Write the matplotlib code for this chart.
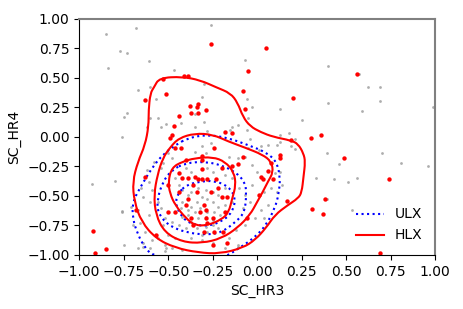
import numpy as np
import matplotlib
matplotlib.use("Agg")
import matplotlib.pyplot as plt
from matplotlib.path import Path
from matplotlib.patches import PathPatch
from matplotlib.lines import Line2D

# gray background sources (ULX sample)
gray_x = [-0.85, -0.68, -0.26, -0.77, -0.73, -0.61, -0.84, -0.47, -0.67, -0.60, -0.30, -0.07, -0.06, -0.03,
          -0.05, -0.57, -0.31, -0.75, -0.73, -0.60, -0.56, -0.62, -0.54, -0.51, -0.43, -0.35, -0.28, -0.14,
          -0.11, -0.76, 0.40, 0.62, 0.69, 0.13, 0.40, 0.69, 0.59, 0.99, 0.25, 0.18, 0.57, 0.13, -0.04, 0.02,
          0.21, 0.19, 0.21, 0.39, 0.70, 0.46, 0.51, 0.56, 0.81, 0.96, 0.33, 0.43, 0.53, 0.39, -0.93, -0.80,
          -0.76, -0.76, -0.75, -0.67, -0.64, -0.51, -0.11, -0.35, -0.30, -0.15, -0.06,
          -0.26, -0.31, -0.35, -0.29, -0.50, -0.48, -0.53, -0.54, -0.58, -0.62, -0.61, -0.65, -0.64, -0.60,
          -0.56, -0.54, -0.61, -0.66, -0.63, -0.59, -0.52, -0.48, -0.42, -0.37, -0.31, -0.25, -0.16, -0.12,
          -0.07, -0.08, -0.04, -0.07, -0.10, -0.03, 0.00, -0.03, -0.07, -0.05, 0.01, 0.06, 0.11, 0.13, -0.11,
          -0.16, -0.14, -0.18, -0.25, -0.28, -0.37, -0.40, -0.46, -0.44, -0.42, -0.39, -0.37, -0.33, -0.29,
          -0.25, -0.22, -0.18, -0.14, -0.18, -0.22, -0.25, -0.28, -0.31, -0.34, -0.37, -0.39, -0.42, -0.43,
          -0.42, -0.39, -0.35, -0.32, -0.28, -0.24, -0.21, -0.25, -0.29, -0.33, -0.37, -0.34, -0.29, -0.25,
          -0.22, -0.28, -0.31, -0.40, -0.44, -0.48, -0.52, -0.53, -0.50, -0.46, -0.56, 0.04, 0.06, 0.08,
          0.02, -0.01, 0.04, 0.11, 0.14, 0.13, 0.10, -0.59, -0.67, -0.70, -0.71, -0.64, -0.60, -0.52, -0.18,
          -0.11]
gray_y = [0.87, 0.92, 0.95, 0.73, 0.71, 0.64, 0.58, 0.57, 0.40, 0.42, 0.45, 0.65, 0.32, 0.25,
          0.16, 0.32, 0.34, 0.17, 0.20, 0.16, 0.16, 0.08, 0.08, 0.11, 0.12, 0.08, 0.05, 0.08,
          0.10, 0.00, 0.60, 0.42, 0.42, 0.24, 0.29, 0.30, 0.22, 0.25, 0.14, 0.03, 0.53, -0.04, -0.02, -0.08,
          -0.02, -0.08, -0.10, -0.14, -0.14, -0.23, -0.38, -0.35, -0.22, -0.25, -0.35, -0.36, -0.62, -0.53, -0.40, -0.37,
          -0.63, -0.64, -0.92, -0.94, -0.93, -0.94, -0.93, 0.19, 0.13, 0.06, 0.06,
          -0.05, -0.08, -0.13, -0.14, -0.14, -0.18, -0.22, -0.26, -0.21, -0.28, -0.38, -0.43, -0.51, -0.55,
          -0.55, -0.60, -0.66, -0.73, -0.81, -0.87, -0.92, -0.94, -0.96, -0.86, -0.87, -0.90, -0.86, -0.79,
          -0.75, -0.60, -0.55, -0.49, -0.43, -0.41, -0.30, -0.24, -0.17, -0.09, -0.11, -0.07, -0.07, 0.02, -0.18,
          -0.17, -0.35, -0.32, -0.30, -0.26, -0.30, -0.26, -0.35, -0.41, -0.45, -0.49, -0.47, -0.43, -0.45,
          -0.47, -0.49, -0.43, -0.55, -0.58, -0.59, -0.55, -0.53, -0.51, -0.55, -0.59, -0.62, -0.55, -0.60,
          -0.68, -0.66, -0.64, -0.60, -0.64, -0.64, -0.66, -0.70, -0.68, -0.69, -0.72, -0.77, -0.76, -0.75,
          -0.77, -0.81, -0.83, -0.77, -0.75, -0.72, -0.69, -0.75, -0.83, -0.86, -0.86, -0.47, -0.58, -0.43,
          -0.62, -0.69, -0.69, -0.47, -0.41, -0.30, -0.31, -0.45, -0.62, -0.75, -0.59, -0.90, -0.94, -0.97, -0.94,
          -0.92]

# red sources (HLX sample)
red_x = [-0.26, -0.05, -0.53, -0.41, -0.39, -0.63, -0.51, -0.08, -0.07, -0.38, -0.34, -0.33, -0.37, -0.33,
         -0.29, -0.44, -0.47, -0.49, -0.48, -0.18, -0.14, 0.05, 0.56, 0.20, 0.30, 0.36, 0.19, 0.13, 0.13,
         0.49, 0.08, 0.06, 0.02, 0.03, 0.09, 0.17, 0.74, 0.38, 0.31, 0.37, 0.69, -0.92, -0.91, -0.85, -0.68,
         -0.25, -0.17, -0.46, -0.43, -0.24, -0.40, -0.31, -0.31, -0.20, -0.14, -0.11, -0.08, -0.44, -0.42,
         -0.39, -0.35, -0.31, -0.33, -0.31, -0.28, -0.23, -0.63, -0.50, -0.36, -0.44, -0.34, -0.26, -0.22,
         -0.20, -0.17, -0.39, -0.30, -0.40, -0.32, -0.29, -0.46, -0.50, -0.37, -0.29, -0.25, -0.18, -0.28,
         -0.36, -0.30, -0.24, -0.19, -0.06, 0.01, -0.57]
red_y = [0.79, 0.56, 0.49, 0.52, 0.52, 0.31, 0.36, 0.39, 0.24, 0.26, 0.25, 0.28, 0.20, 0.20,
         0.23, 0.18, 0.09, -0.01, 0.02, 0.04, 0.03, 0.75, 0.53, 0.33, -0.01, 0.02, -0.03, -0.15, -0.18,
         -0.18, -0.22, -0.29, -0.34, -0.36, -0.36, -0.54, -0.36, -0.53, -0.61, -0.65, -0.98, -0.80, -0.98, -0.95, -0.62,
         -0.92, -0.90, -0.09, -0.09, -0.09, -0.20, -0.16, -0.20, -0.26, -0.25, -0.23, -0.17, -0.31, -0.35,
         -0.35, -0.34, -0.27, -0.36, -0.36, -0.36, -0.36, -0.34, -0.41, -0.41, -0.47, -0.47, -0.47, -0.43,
         -0.51, -0.51, -0.53, -0.58, -0.58, -0.64, -0.62, -0.64, -0.64, -0.69, -0.69, -0.69, -0.64, -0.73,
         -0.75, -0.81, -0.81, -0.81, -0.69, -0.49, -0.83]

# density contours (x list, y list per level)
ulx_c1_x = [-0.39, -0.28, -0.16, -0.05, 0.05, 0.11, 0.13, 0.12, 0.10, 0.05, -0.02, -0.10, -0.16, -0.25,
            -0.45, -0.59, -0.63, -0.67, -0.70, -0.70, -0.65, -0.59, -0.53, -0.46]
ulx_c1_y = [-0.01, 0.02, -0.01, -0.07, -0.13, -0.21, -0.35, -0.49, -0.60, -0.75, -0.86, -0.94, -1.00, -1.06,
            -1.06, -1.00, -0.94, -0.83, -0.69, -0.55, -0.41, -0.26, -0.15, -0.07]
ulx_c2_x = [-0.40, -0.29, -0.20, -0.12, -0.07, -0.06, -0.07, -0.12, -0.20, -0.29, -0.40, -0.50, -0.56,
            -0.56, -0.53, -0.48]
ulx_c2_y = [-0.22, -0.21, -0.24, -0.30, -0.38, -0.47, -0.64, -0.72, -0.81, -0.83, -0.81, -0.75, -0.64,
            -0.52, -0.38, -0.28]
ulx_c3_x = [-0.40, -0.33, -0.24, -0.16, -0.12, -0.14, -0.20, -0.29, -0.39, -0.44, -0.46, -0.44]
ulx_c3_y = [-0.41, -0.38, -0.37, -0.42, -0.52, -0.64, -0.72, -0.76, -0.73, -0.64, -0.55, -0.47]

hlx_c1_x = [-0.60, -0.58, -0.55, -0.42, -0.32, -0.23, -0.15, -0.11, -0.08, -0.04, 0.02, 0.09, 0.19, 0.23,
            0.26, 0.27, 0.26, 0.25, 0.23, 0.17, 0.10, 0.05, -0.01, -0.08, -0.21, -0.33, -0.46, -0.57, -0.65,
            -0.69, -0.70, -0.67, -0.63, -0.61, -0.61]
hlx_c1_y = [0.37, 0.42, 0.50, 0.51, 0.48, 0.42, 0.37, 0.29, 0.17, 0.09, 0.04, 0.00, -0.03, -0.06,
            -0.14, -0.21, -0.34, -0.47, -0.52, -0.58, -0.66, -0.77, -0.87, -0.94, -0.99, -0.98, -0.94, -0.86,
            -0.72, -0.55, -0.38, -0.21, -0.07, 0.09, 0.23]
hlx_c2_x = [-0.44, -0.35, -0.25, -0.16, -0.07, 0.03, 0.08, 0.09, 0.06, 0.03, 0.00, -0.04, -0.11, -0.20,
            -0.31, -0.42, -0.52, -0.57, -0.58, -0.56, -0.53, -0.49]
hlx_c2_y = [-0.01, 0.03, 0.02, -0.04, -0.09, -0.15, -0.21, -0.30, -0.38, -0.47, -0.55, -0.66, -0.77, -0.86,
            -0.90, -0.89, -0.81, -0.66, -0.49, -0.32, -0.18, -0.09]
hlx_c3_x = [-0.50, -0.48, -0.42, -0.35, -0.25, -0.18, -0.13, -0.12, -0.14, -0.16, -0.20, -0.28, -0.35,
            -0.40, -0.46, -0.49]
hlx_c3_y = [-0.38, -0.26, -0.21, -0.18, -0.17, -0.21, -0.30, -0.41, -0.52, -0.64, -0.70, -0.75, -0.75,
            -0.69, -0.58, -0.48]

ulx_levels = [(ulx_c1_x, ulx_c1_y), (ulx_c2_x, ulx_c2_y), (ulx_c3_x, ulx_c3_y)]
hlx_levels = [(hlx_c1_x, hlx_c1_y), (hlx_c2_x, hlx_c2_y), (hlx_c3_x, hlx_c3_y)]


def closed_curve(cx, cy):
    # smooth closed path: the read points act as quadratic bezier control points
    pts = np.column_stack([cx, cy])
    mids = (pts + np.roll(pts, -1, axis=0)) / 2
    verts = [mids[-1]]
    codes = [Path.MOVETO]
    for i in range(len(pts)):
        verts += [pts[i], mids[i]]
        codes += [Path.CURVE3, Path.CURVE3]
    return Path(verts, codes)


fig = plt.figure(figsize=(4.63, 3.09), dpi=100)
ax = fig.add_axes([0.171, 0.175, 0.769, 0.764])

ax.scatter(gray_x, gray_y, s=4, color="#999999", alpha=0.8, linewidths=0)

for cx, cy in ulx_levels:
    ax.add_patch(PathPatch(closed_curve(cx, cy), fill=False, edgecolor="blue", ls=":", lw=1.5))
for cx, cy in hlx_levels:
    ax.add_patch(PathPatch(closed_curve(cx, cy), fill=False, edgecolor="red", ls="-", lw=1.5))

ax.scatter(red_x, red_y, s=10, color="red", linewidths=0)

ax.set_xlim(-1, 1)
ax.set_ylim(-1, 1)
ax.set_xticks(np.arange(-1, 1.01, 0.25))
ax.set_yticks(np.arange(-1, 1.01, 0.25))
ax.set_xlabel("SC_HR3")
ax.set_ylabel("SC_HR4")
for side in ["top", "right"]:
    ax.spines[side].set_color("gray")
    ax.spines[side].set_linewidth(1.5)
handles = [Line2D([], [], color="blue", ls=":", lw=1.5), Line2D([], [], color="red", ls="-", lw=1.5)]
ax.legend(handles, ["ULX", "HLX"], loc="lower right", frameon=False, fontsize=10)

fig.savefig("out.png", dpi=100)
